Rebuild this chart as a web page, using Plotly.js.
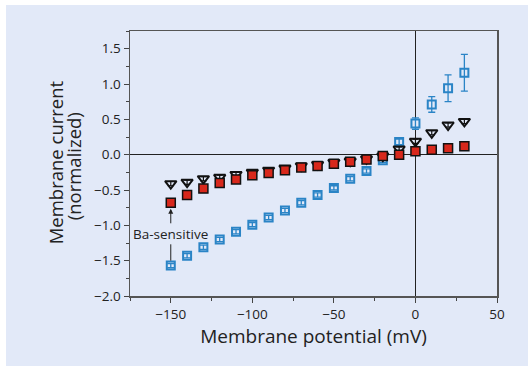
<!DOCTYPE html>
<html>
<head>
<meta charset="utf-8">
<script src="https://cdn.plot.ly/plotly-3.0.1.min.js"></script>
<style>
  html, body { margin: 0; padding: 0; background: #ffffff; width: 528px; height: 366px; overflow: hidden; }
  #chart { position: absolute; left: 6px; top: 5px; width: 522px; height: 361px; }
</style>
</head>
<body>
<div id="chart"></div>
<script>
// Membrane potential (mV)
const voltage = [-150, -140, -130, -120, -110, -100, -90, -80, -70, -60, -50, -40, -30, -20, -10, 0, 10, 20, 30];

// Blue open squares (total current)
const blueCurrent = [-1.57, -1.43, -1.31, -1.20, -1.09, -0.99, -0.89, -0.79, -0.68, -0.57, -0.47, -0.34, -0.23, -0.08, 0.18, 0.44, 0.71, 0.94, 1.16];
const blueErr     = [0.03, 0.03, 0.03, 0.03, 0.03, 0.03, 0.03, 0.03, 0.03, 0.03, 0.03, 0.03, 0.03, 0.03, 0.04, 0.08, 0.11, 0.19, 0.26];

// Black open down-triangles
const triCurrent = [-0.41, -0.39, -0.34, -0.32, -0.28, -0.25, -0.22, -0.19, -0.16, -0.14, -0.11, -0.09, -0.06, -0.02, 0.08, 0.19, 0.31, 0.42, 0.47];
const triErr     = [0.03, 0.03, 0.03, 0.03, 0.03, 0.03, 0.03, 0.03, 0.03, 0.03, 0.03, 0.03, 0.03, 0.03, 0.03, 0.03, 0.03, 0.03, 0.03];

// Red filled squares (Ba-sensitive)
const redCurrent = [-0.68, -0.57, -0.48, -0.40, -0.35, -0.29, -0.26, -0.22, -0.18, -0.16, -0.13, -0.10, -0.07, -0.02, 0.00, 0.05, 0.07, 0.09, 0.12];
const redErr     = [0.02, 0.02, 0.02, 0.02, 0.02, 0.02, 0.02, 0.02, 0.02, 0.02, 0.02, 0.02, 0.02, 0.02, 0.02, 0.02, 0.02, 0.02, 0.02];

const xTickVals = [-150, -100, -50, 0, 50];
const xTickText = ['\u2212150', '\u2212100', '\u221250', '0', '50'];
const yTickVals = [-2.0, -1.5, -1.0, -0.5, 0.0, 0.5, 1.0, 1.5];
const yTickText = ['\u22122.0', '\u22121.5', '\u22121.0', '\u22120.5', '0.0', '0.5', '1.0', '1.5'];

const xTitle = 'Membrane potential (mV)';
const yTitleLine1 = 'Membrane current';
const yTitleLine2 = '(normalized)';

const labelText = 'Ba-sensitive';
const labelY = -1.12;

const BG = '#e2e9f8';
const BLUE = '#2a84c6';
const RED = '#d8281c';
const FONT = 'Open Sans, Noto Sans, sans-serif';

const traces = [
  {
    x: voltage, y: blueCurrent, type: 'scatter', mode: 'markers',
    marker: { symbol: 'square-open', size: 8, color: BLUE, line: { color: BLUE, width: 2 } },
    error_y: { type: 'data', array: blueErr, visible: true, color: BLUE, thickness: 1.3, width: 3.5 },
    showlegend: false, cliponaxis: false
  },
  {
    x: voltage, y: triCurrent, type: 'scatter', mode: 'markers',
    marker: { symbol: 'triangle-down-open', size: 10, color: '#111111', line: { color: '#111111', width: 2 } },
    error_y: { type: 'data', array: triErr, visible: true, color: '#111111', thickness: 1.2, width: 3 },
    showlegend: false, cliponaxis: false
  },
  {
    x: voltage, y: redCurrent, type: 'scatter', mode: 'markers',
    marker: { symbol: 'square', size: 9, color: RED, line: { color: '#111111', width: 1.5 } },
    error_y: { type: 'data', array: redErr, visible: true, color: '#111111', thickness: 1, width: 3 },
    showlegend: false, cliponaxis: false
  }
];

const layout = {
  width: 522, height: 361,
  margin: { l: 124, r: 31, t: 26, b: 70 },
  paper_bgcolor: BG, plot_bgcolor: BG,
  font: { family: FONT, color: '#222222', size: 13 },
  xaxis: {
    range: [-175, 50],
    tickvals: xTickVals, ticktext: xTickText,
    ticks: 'outside', ticklen: 5, tickwidth: 1, tickcolor: '#444444',
    minor: { dtick: 25, tick0: -175, ticks: 'outside', ticklen: 3, tickcolor: '#444444', showgrid: false },
    showline: true, linecolor: '#555555', linewidth: 1.5, mirror: true,
    showgrid: false, zeroline: true, zerolinecolor: '#222222', zerolinewidth: 1,
    tickfont: { family: FONT, size: 13.5, color: '#222222' },
    title: { text: xTitle, font: { family: FONT, size: 19, color: '#222222' }, standoff: 0 }
  },
  yaxis: {
    range: [-2.0, 1.75],
    tickvals: yTickVals, ticktext: yTickText,
    ticks: 'outside', ticklen: 5, tickwidth: 1, tickcolor: '#444444',
    minor: { dtick: 0.25, tick0: 0, ticks: 'outside', ticklen: 3, tickcolor: '#444444', showgrid: false },
    showline: true, linecolor: '#555555', linewidth: 1.5, mirror: true,
    showgrid: false, zeroline: true, zerolinecolor: '#222222', zerolinewidth: 1,
    tickfont: { family: FONT, size: 13.5, color: '#222222' }
  },
  annotations: [
    {
      text: yTitleLine1, xref: 'paper', yref: 'paper', x: -0.204, y: 0.505,
      xanchor: 'center', yanchor: 'middle', textangle: -90, showarrow: false,
      font: { family: FONT, size: 18.5, color: '#222222' }
    },
    {
      text: yTitleLine2, xref: 'paper', yref: 'paper', x: -0.155, y: 0.49,
      xanchor: 'center', yanchor: 'middle', textangle: -90, showarrow: false,
      font: { family: FONT, size: 18.5, color: '#222222' }
    },
    {
      x: voltage[0], y: redCurrent[0], xref: 'x', yref: 'y',
      ax: voltage[0], ay: labelY, axref: 'x', ayref: 'y',
      text: labelText, showarrow: true, arrowhead: 2, arrowsize: 1, arrowwidth: 1,
      arrowcolor: '#222222', standoff: 6,
      font: { family: FONT, size: 13.5, color: '#222222' }
    },
    {
      x: voltage[0], y: blueCurrent[0], xref: 'x', yref: 'y',
      ax: voltage[0], ay: labelY, axref: 'x', ayref: 'y',
      text: labelText, showarrow: true, arrowhead: 0, arrowwidth: 1,
      arrowcolor: '#222222', standoff: 5,
      font: { family: FONT, size: 13.5, color: 'rgba(0,0,0,0)' }
    }
  ]
};

Plotly.newPlot('chart', traces, layout, { displayModeBar: false, staticPlot: true });
</script>
</body>
</html>
